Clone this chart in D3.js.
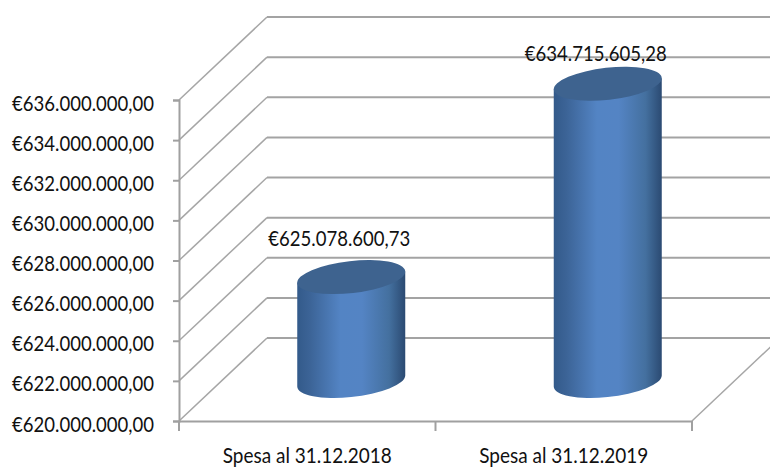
<!DOCTYPE html>
<html>
<head>
<meta charset="utf-8">
<script src="https://cdn.jsdelivr.net/npm/d3@7"></script>
<style>
  html, body { margin: 0; padding: 0; background: #fff; }
  svg { display: block; }
  text { font-family: Lato, "Open Sans", sans-serif; fill: #111; }
</style>
</head>
<body>
<div id="chart"></div>
<script>
// data
var categories = ["Spesa al 31.12.2018", "Spesa al 31.12.2019"];
var values = [625078600.73, 634715605.28];
var yTicks = [620000000, 622000000, 624000000, 626000000, 628000000, 630000000, 632000000, 634000000, 636000000];

var W = 770, H = 467;

// plot box of the front plane, and how far the 3d walls are pushed back
var left = 179, right = 692, top_ = 100, bottom = 421;
var depthX = 88, depthY = 83;

// cylinder shape
var rx = 54.3, ry = 16, tilt = -6.4;
var edgeX = 54, edgeY = 5.5;

var svg = d3.select("#chart").append("svg")
    .attr("width", W)
    .attr("height", H);

var it = d3.formatLocale({decimal: ",", thousands: ".", grouping: [3], currency: ["€", ""]});
var euro = it.format("$,.2f");

var x = d3.scaleBand().domain(categories).range([left, right]).padding(0);
var y = d3.scaleLinear().domain([620000000, 636000000]).range([bottom, top_]);

// gradient on the cylinder side
var grad = svg.append("defs").append("linearGradient")
    .attr("id", "side")
    .attr("x1", "0%").attr("x2", "100%").attr("y1", "0%").attr("y2", "0%");
grad.selectAll("stop")
    .data([[0, "#335a8a"], [0.12, "#3c6497"], [0.4, "#5384c4"], [0.6, "#5484c4"], [0.85, "#44709f"], [1, "#2b4a72"]])
    .join("stop")
    .attr("offset", function (d) { return d[0]; })
    .attr("stop-color", function (d) { return d[1]; });

var clip = svg.append("g");

// back wall lines
clip.selectAll(".back")
    .data(yTicks)
    .join("line")
    .attr("class", "back")
    .attr("x1", left + depthX)
    .attr("x2", W)
    .attr("y1", function (d) { return y(d) - depthY; })
    .attr("y2", function (d) { return y(d) - depthY; })
    .attr("stroke", "#a3a3a3")
    .attr("stroke-width", 2);

// side wall lines
clip.selectAll(".side")
    .data(yTicks)
    .join("line")
    .attr("class", "side")
    .attr("x1", left)
    .attr("x2", left + depthX)
    .attr("y1", function (d) { return y(d); })
    .attr("y2", function (d) { return y(d) - depthY; })
    .attr("stroke", "#a6a6a6")
    .attr("stroke-width", 1.5);

// right floor edge
clip.append("line")
    .attr("x1", right)
    .attr("y1", bottom)
    .attr("x2", right + depthX)
    .attr("y2", bottom - depthY)
    .attr("stroke", "#a6a6a6")
    .attr("stroke-width", 1.5);

// axes
var yAxis = svg.append("g")
    .attr("transform", "translate(" + left + ",0)")
    .call(d3.axisLeft(y).tickValues(yTicks).tickFormat(euro).tickSize(6).tickPadding(19));

var xAxis = svg.append("g")
    .attr("transform", "translate(0," + bottom + ")")
    .call(d3.axisBottom(x).tickSize(0).tickPadding(0));

yAxis.selectAll("path, line").attr("stroke", "#a0a0a0").attr("stroke-width", 2);
xAxis.select("path").attr("stroke", "#a0a0a0").attr("stroke-width", 2);
yAxis.selectAll("text")
    .style("font-size", "22px")
    .style("font-family", "Lato")
    .attr("fill", "#111")
    .attr("dy", "10")
    .attr("textLength", 142)
    .attr("lengthAdjust", "spacingAndGlyphs");
xAxis.selectAll("text")
    .style("font-size", "22px")
    .style("font-family", "Lato")
    .attr("fill", "#111")
    .attr("y", 42)
    .attr("dy", 0)
    .attr("textLength", 169)
    .attr("lengthAdjust", "spacingAndGlyphs");

// category separators on the x axis, end to end
svg.selectAll(".sep")
    .data([left, x(categories[1]), right])
    .join("line")
    .attr("class", "sep")
    .attr("x1", function (d) { return d; })
    .attr("x2", function (d) { return d; })
    .attr("y1", bottom)
    .attr("y2", bottom + 10)
    .attr("stroke", "#a0a0a0")
    .attr("stroke-width", 2);

var rows = categories.map(function (c, i) { return {cat: c, value: values[i], i: i}; });

function cx(d) { return x(d.cat) + x.bandwidth() / 2 + depthX / 2; }
function topY(d) { return y(d.value) - 42; }
var baseY = bottom - 40;

// cylinders
var bars = svg.selectAll(".bar").data(rows).join("g").attr("class", "bar");

bars.append("path")
    .attr("fill", "url(#side)")
    .attr("d", function (d) {
        var c = cx(d), t = topY(d);
        return "M" + (c - edgeX) + "," + (t + edgeY) +
            "L" + (c - edgeX) + "," + (baseY + edgeY) +
            "A" + rx + "," + ry + " " + tilt + " 0 0 " + (c + edgeX) + "," + (baseY - edgeY) +
            "L" + (c + edgeX) + "," + (t - edgeY) + "Z";
    });

bars.append("ellipse")
    .attr("rx", rx)
    .attr("ry", ry)
    .attr("fill", "#3e638f")
    .attr("transform", function (d) {
        return "translate(" + cx(d) + "," + topY(d) + ") rotate(" + tilt + ")";
    });

// value labels
var labelLift = [31, 23];
svg.selectAll(".val")
    .data(rows)
    .join("text")
    .attr("class", "val")
    .attr("x", function (d) { return cx(d) - 12; })
    .attr("y", function (d) { return topY(d) - labelLift[d.i]; })
    .attr("text-anchor", "middle")
    .attr("textLength", 142)
    .attr("lengthAdjust", "spacingAndGlyphs")
    .style("font-size", "22px")
    .text(function (d) { return euro(d.value); });
</script>
</body>
</html>
